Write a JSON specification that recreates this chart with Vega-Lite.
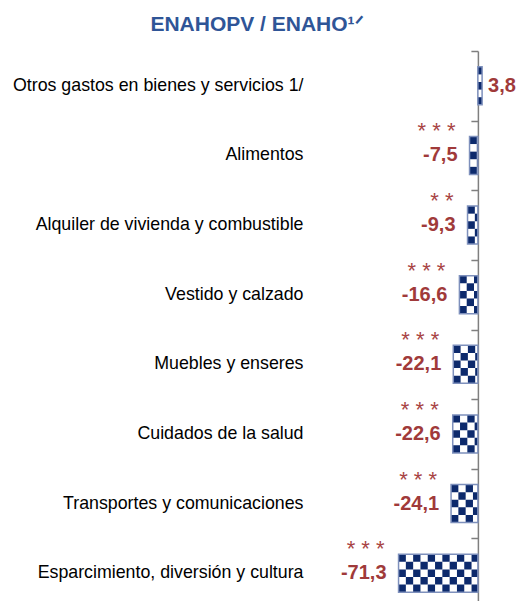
{
  "$schema": "https://vega.github.io/schema/vega-lite/v6.json",
  "width": 178,
  "height": 550,
  "autosize": {"type": "none"},
  "padding": {"left": 311, "top": 51, "right": 30, "bottom": 0},
  "title": {"text": "ENAHOPV / ENAHO¹ᐟ", "font": "Liberation Sans", "fontSize": 21, "fontWeight": "bold", "color": "#2F5597", "anchor": "middle", "frame": "group", "dx": -143, "offset": 15},
  "config": {
    "view": {"stroke": null},
    "locale": {"number": {"decimal": ",", "thousands": ".", "grouping": [3], "currency": ["", ""], "minus": "-"}}
  },
  "data": {"values": [
    {"cat": "Otros gastos en bienes y servicios 1/", "value": 3.8, "stars": ""},
    {"cat": "Alimentos", "value": -7.5, "stars": "* * *"},
    {"cat": "Alquiler de vivienda y combustible", "value": -9.3, "stars": "* *"},
    {"cat": "Vestido y calzado", "value": -16.6, "stars": "* * *"},
    {"cat": "Muebles y enseres", "value": -22.1, "stars": "* * *"},
    {"cat": "Cuidados de la salud", "value": -22.6, "stars": "* * *"},
    {"cat": "Transportes y comunicaciones", "value": -24.1, "stars": "* * *"},
    {"cat": "Esparcimiento, diversión y cultura", "value": -71.3, "stars": "* * *"}
  ]},
  "layer": [
    {
      "mark": {"type": "bar", "size": 38, "fill": "white"},
      "encoding": {
        "y": {"field": "cat", "type": "nominal", "sort": null, "scale": {"range": [0, 557], "paddingInner": 0, "paddingOuter": 0},
          "axis": {"title": null, "domain": false, "ticks": false, "tickSize": 0, "grid": false, "labelPadding": 8, "labelFont": "Liberation Sans", "labelFontSize": 17.8, "labelColor": "#000000", "labelLimit": 400}},
        "x": {"field": "value", "type": "quantitative", "scale": {"domain": [-150, 10], "nice": false, "zero": true}, "axis": null}
      }
    },
    {
      "mark": {"type": "rule", "color": "#0D2A6C", "strokeWidth": 7.6, "strokeDash": [7.3, 7.3], "strokeDashOffset": 0, "yOffset": -15.2},
      "encoding": {"y": {"field": "cat", "type": "nominal", "sort": null, "axis": null}, "x": {"field": "value", "type": "quantitative"}, "x2": {"datum": 0}}
    },
    {
      "mark": {"type": "rule", "color": "#0D2A6C", "strokeWidth": 7.6, "strokeDash": [7.3, 7.3], "strokeDashOffset": 7.3, "yOffset": -7.6},
      "encoding": {"y": {"field": "cat", "type": "nominal", "sort": null, "axis": null}, "x": {"field": "value", "type": "quantitative"}, "x2": {"datum": 0}}
    },
    {
      "mark": {"type": "rule", "color": "#0D2A6C", "strokeWidth": 7.6, "strokeDash": [7.3, 7.3], "strokeDashOffset": 0, "yOffset": 0},
      "encoding": {"y": {"field": "cat", "type": "nominal", "sort": null, "axis": null}, "x": {"field": "value", "type": "quantitative"}, "x2": {"datum": 0}}
    },
    {
      "mark": {"type": "rule", "color": "#0D2A6C", "strokeWidth": 7.6, "strokeDash": [7.3, 7.3], "strokeDashOffset": 7.3, "yOffset": 7.6},
      "encoding": {"y": {"field": "cat", "type": "nominal", "sort": null, "axis": null}, "x": {"field": "value", "type": "quantitative"}, "x2": {"datum": 0}}
    },
    {
      "mark": {"type": "rule", "color": "#0D2A6C", "strokeWidth": 7.6, "strokeDash": [7.3, 7.3], "strokeDashOffset": 0, "yOffset": 15.2},
      "encoding": {"y": {"field": "cat", "type": "nominal", "sort": null, "axis": null}, "x": {"field": "value", "type": "quantitative"}, "x2": {"datum": 0}}
    },
    {
      "mark": {"type": "bar", "size": 38, "fillOpacity": 0, "stroke": "#7E90BC", "strokeWidth": 1.5},
      "encoding": {"y": {"field": "cat", "type": "nominal", "sort": null, "axis": null}, "x": {"field": "value", "type": "quantitative"}}
    },
    {
      "transform": [{"filter": "datum.value >= 0"}],
      "mark": {"type": "text", "align": "left", "baseline": "middle", "dx": 6, "font": "Liberation Sans", "fontSize": 20, "fontWeight": "bold", "color": "#A03A3A"},
      "encoding": {"y": {"field": "cat", "type": "nominal", "sort": null, "axis": null}, "x": {"field": "value", "type": "quantitative"}, "text": {"field": "value", "type": "quantitative", "format": ".1f"}}
    },
    {
      "transform": [{"filter": "datum.value < 0"}],
      "mark": {"type": "text", "align": "right", "baseline": "middle", "dx": -12, "font": "Liberation Sans", "fontSize": 20, "fontWeight": "bold", "color": "#A03A3A"},
      "encoding": {"y": {"field": "cat", "type": "nominal", "sort": null, "axis": null}, "x": {"field": "value", "type": "quantitative"}, "text": {"field": "value", "type": "quantitative", "format": ".1f"}}
    },
    {
      "transform": [{"filter": "datum.value < 0"}],
      "mark": {"type": "text", "align": "right", "baseline": "alphabetic", "dx": -14, "dy": -17, "font": "Liberation Sans", "fontSize": 22, "color": "#A84444"},
      "encoding": {
        "y": {"field": "cat", "type": "nominal", "sort": null,
          "axis": {"orient": "right", "title": null, "labels": false, "grid": false, "offset": -11.1, "domain": true, "domainColor": "#7F7F7F", "domainWidth": 1.5, "ticks": true, "tickBand": "extent", "tickSize": -7, "tickColor": "#7F7F7F", "tickWidth": 1.5}},
        "x": {"field": "value", "type": "quantitative"},
        "text": {"field": "stars"}
      }
    }
  ],
  "resolve": {"axis": {"y": "independent"}}
}
